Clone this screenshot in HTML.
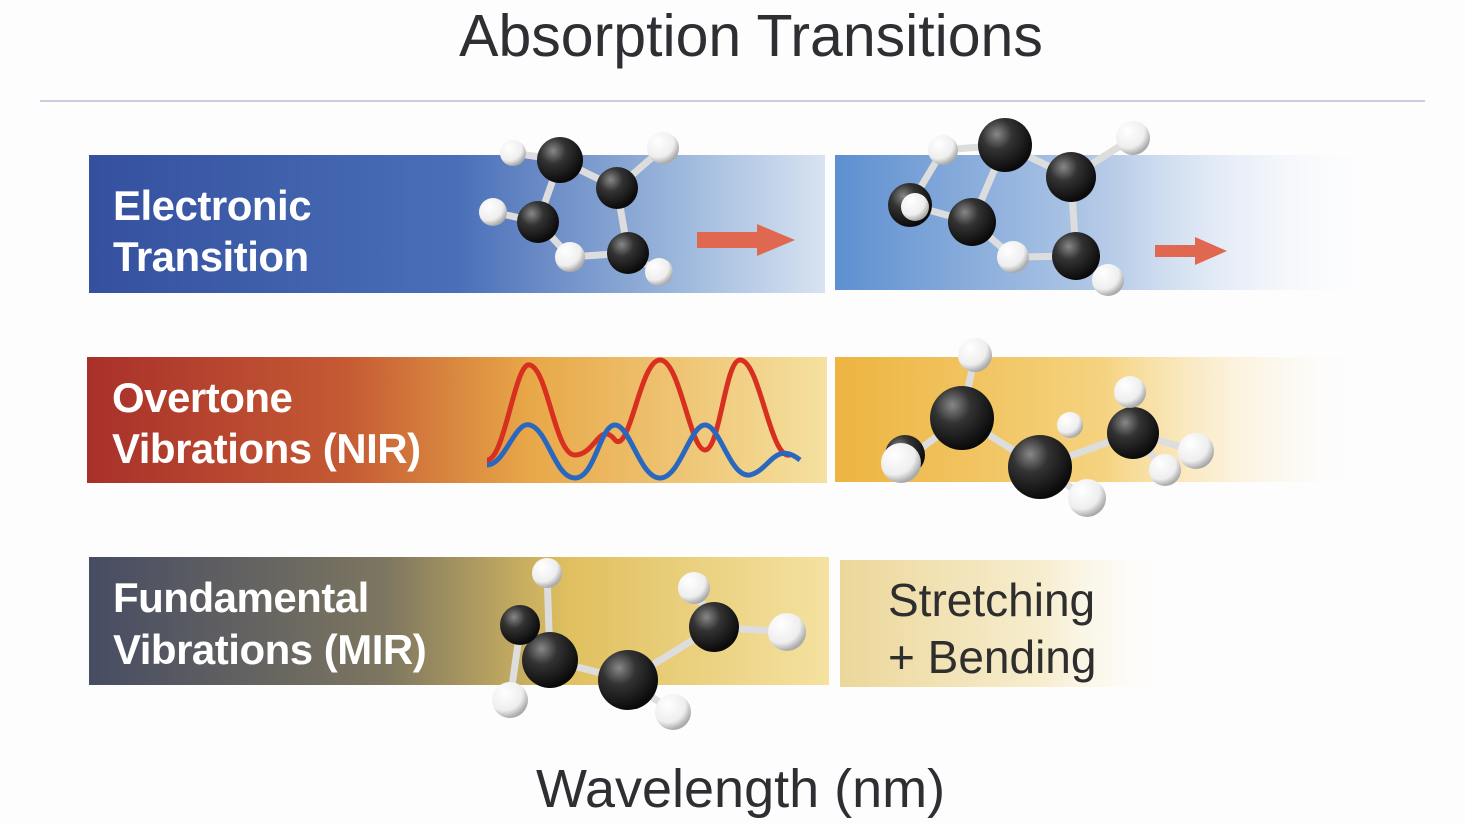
<!DOCTYPE html>
<html><head><meta charset="utf-8"><style>
body{margin:0;width:1465px;height:824px;background:#fdfdfe;overflow:hidden;font-family:"Liberation Sans","DejaVu Sans",sans-serif;position:relative}
.t{position:absolute;white-space:nowrap}
</style></head><body>
<svg width="1465" height="824" style="position:absolute;left:0;top:0">
<defs>
<linearGradient id="b1" x1="0" x2="1"><stop offset="0" stop-color="#34509e"/><stop offset="0.5" stop-color="#4a6fb8"/><stop offset="0.8" stop-color="#9cb7dc"/><stop offset="1" stop-color="#d8e3f1"/></linearGradient>
<linearGradient id="b1b" x1="0" x2="1"><stop offset="0" stop-color="#5d8fd0"/><stop offset="0.5" stop-color="#b6cbe7"/><stop offset="1" stop-color="#ffffff" stop-opacity="0"/></linearGradient>
<linearGradient id="b2" x1="0" x2="1"><stop offset="0" stop-color="#a8302a"/><stop offset="0.35" stop-color="#c55a34"/><stop offset="0.6" stop-color="#e8a848"/><stop offset="1" stop-color="#f5e1a0"/></linearGradient>
<linearGradient id="b2b" x1="0" x2="1"><stop offset="0" stop-color="#edb440"/><stop offset="0.5" stop-color="#f5d380"/><stop offset="1" stop-color="#ffffff" stop-opacity="0"/></linearGradient>
<linearGradient id="b3" x1="0" x2="1"><stop offset="0" stop-color="#464c63"/><stop offset="0.4" stop-color="#7d7660"/><stop offset="0.65" stop-color="#e0c060"/><stop offset="1" stop-color="#f5e2a0"/></linearGradient>
<linearGradient id="b3b" x1="0" x2="1"><stop offset="0" stop-color="#ecd79a"/><stop offset="0.6" stop-color="#f7eed0"/><stop offset="1" stop-color="#ffffff" stop-opacity="0"/></linearGradient>
<radialGradient id="c" cx="0.35" cy="0.3" r="0.7"><stop offset="0" stop-color="#888"/><stop offset="0.4" stop-color="#333"/><stop offset="1" stop-color="#0a0a0a"/></radialGradient>
<radialGradient id="h" cx="0.35" cy="0.3" r="0.7"><stop offset="0" stop-color="#fff"/><stop offset="0.7" stop-color="#eee"/><stop offset="1" stop-color="#aaa"/></radialGradient>
</defs>
<line x1="40" y1="101" x2="1425" y2="101" stroke="#c9cfe0" stroke-width="2"/>
<rect x="89" y="155" width="736" height="138" fill="url(#b1)"/>
<rect x="835" y="155" width="550" height="135" fill="url(#b1b)"/>
<rect x="87" y="357" width="740" height="126" fill="url(#b2)"/>
<rect x="835" y="357" width="540" height="125" fill="url(#b2b)"/>
<rect x="89" y="557" width="740" height="128" fill="url(#b3)"/>
<rect x="840" y="560" width="345" height="127" fill="url(#b3b)"/>
<path d="M697 232h60v-8l38 16-38 16v-8h-60z" fill="#e06850"/>
<path d="M1155 245h40v-8l32 14-32 14v-8h-40z" fill="#e06850"/>
<g fill="none" stroke-width="5">
<path d="M487 460 C505 460,515 360,530 365 C548 370,555 455,575 455 C595 455,600 420,615 440 C630 455,640 360,660 360 C680 360,690 450,705 450 C720 450,725 360,740 360 C760 360,770 460,790 455" stroke="#d83020"/>
<path d="M487 465 C505 465,515 420,530 425 C548 430,555 478,575 478 C595 478,600 425,615 425 C630 425,640 478,660 478 C680 478,690 425,705 425 C720 425,730 478,750 475 C770 470,775 440,800 460" stroke="#2a68c0"/>
</g>
<g stroke="#ddd" stroke-width="7" fill="none">
<path d="M513 153L560 160L617 188L663 148M617 188L628 253L659 272M628 253L570 257L538 222L493 212M538 222L560 160"/>
<path d="M943 150L1005 145L1071 177L1133 138M1071 177L1076 256L1108 280M1076 256L1013 257L972 222L910 205L943 150M972 222L1005 145"/>
<path d="M975 355L962 418L901 463L920 465M962 418L1040 467L1087 498M1040 467L1133 433L1130 392M1133 433L1196 451M1133 433L1165 470"/>
<path d="M547 573L550 660L520 630L510 700M550 660L628 680L673 712M628 680L714 627L694 588M714 627L787 632"/>
</g>
<g fill="url(#c)">
<circle cx="560" cy="160" r="23"/><circle cx="617" cy="188" r="21"/><circle cx="628" cy="253" r="21"/><circle cx="538" cy="222" r="21"/>
<circle cx="1005" cy="145" r="27"/><circle cx="1071" cy="177" r="25"/><circle cx="1076" cy="256" r="24"/><circle cx="972" cy="222" r="24"/><circle cx="910" cy="205" r="22"/>
<circle cx="962" cy="418" r="32"/><circle cx="1040" cy="467" r="32"/><circle cx="1133" cy="433" r="26"/><circle cx="905" cy="455" r="20"/>
<circle cx="550" cy="660" r="28"/><circle cx="628" cy="680" r="30"/><circle cx="714" cy="627" r="25"/><circle cx="520" cy="625" r="20"/>
</g>
<g fill="url(#h)">
<circle cx="513" cy="153" r="13"/><circle cx="663" cy="148" r="16"/><circle cx="659" cy="272" r="14"/><circle cx="570" cy="257" r="15"/><circle cx="493" cy="212" r="14"/>
<circle cx="943" cy="150" r="15"/><circle cx="1133" cy="138" r="17"/><circle cx="1108" cy="280" r="16"/><circle cx="1013" cy="257" r="16"/><circle cx="915" cy="207" r="14"/>
<circle cx="975" cy="355" r="17"/><circle cx="901" cy="463" r="20"/><circle cx="1087" cy="498" r="19"/><circle cx="1130" cy="392" r="16"/><circle cx="1196" cy="451" r="18"/><circle cx="1165" cy="470" r="16"/><circle cx="1070" cy="425" r="13"/>
<circle cx="547" cy="573" r="15"/><circle cx="510" cy="700" r="18"/><circle cx="673" cy="712" r="18"/><circle cx="694" cy="588" r="16"/><circle cx="787" cy="632" r="19"/>
</g>
</svg>
<div class="t" style="left:0;width:1502px;text-align:center;top:2px;font-size:59px;color:#2e2e33">Absorption Transitions</div>
<div class="t" style="left:113px;top:180px;font-size:42px;line-height:51px;color:#fff;font-weight:bold;letter-spacing:-0.5px">Electronic<br>Transition</div>
<div class="t" style="left:112px;top:372px;font-size:42px;line-height:51px;color:#fff;font-weight:bold;letter-spacing:-0.5px">Overtone<br>Vibrations (NIR)</div>
<div class="t" style="left:113px;top:572px;font-size:42px;line-height:52px;color:#fff;font-weight:bold;letter-spacing:-0.5px">Fundamental<br>Vibrations (MIR)</div>
<div class="t" style="left:888px;top:572px;font-size:46px;line-height:57px;color:#2e2e2e">Stretching<br>+ Bending</div>
<div class="t" style="left:536px;top:758px;font-size:54px;color:#2e2e33">Wavelength (nm)</div>
</body></html>
